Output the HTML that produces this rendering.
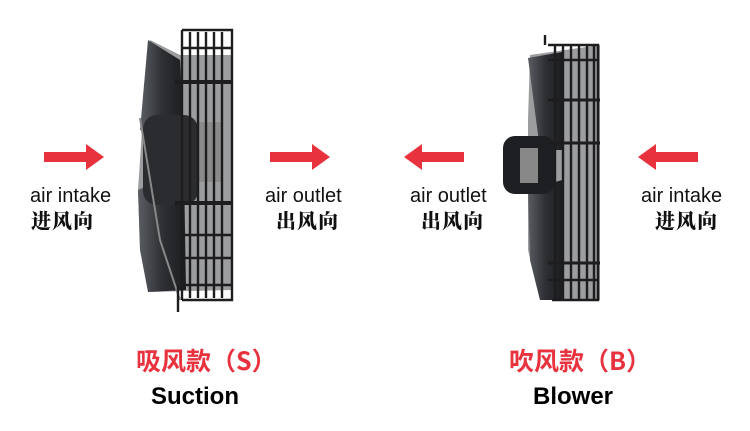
<!DOCTYPE html>
<html><head><meta charset="utf-8"><style>
body{margin:0;width:750px;height:431px;background:#fff;position:relative;overflow:hidden;font-family:"Liberation Sans","Noto Sans CJK SC",sans-serif}
.t{position:absolute;white-space:nowrap;color:#111}
.en{font-size:20px}
.cn{font-size:20px;font-weight:900;font-family:"Noto Serif CJK SC","Noto Sans CJK SC",serif;letter-spacing:1px}
.red{color:#e8333f;font-weight:bold;font-size:25px;font-family:"Noto Sans CJK SC",sans-serif}
.bk{font-weight:bold;font-size:24px;color:#000}
</style></head><body>
<svg width="750" height="431" style="position:absolute;left:0;top:0">
<defs>
<linearGradient id="bl" x1="0" x2="1"><stop offset="0" stop-color="#5a5d62"/><stop offset=".5" stop-color="#2e3034"/><stop offset="1" stop-color="#1c1d20"/></linearGradient>
</defs>
<g fill="#e8333f">
<path d="M44 152h42v-8l18 13-18 13v-8h-42z"/>
<path d="M270 152h42v-8l18 13-18 13v-8h-42z"/>
<path d="M464 152h-42v-8l-18 13 18 13v-8h42z"/>
<path d="M698 152h-42v-8l-18 13 18 13v-8h42z"/>
</g>
<path d="M150 40 L180 55 L232 55 L232 290 L150 292 L140 250 L138 190 L142 130 Z" fill="#4a4c51" opacity=".55"/>
<path d="M148 40 L180 60 L184 140 L140 130 Z" fill="url(#bl)"/>
<path d="M138 190 L184 170 L186 290 L148 292 L140 250 Z" fill="url(#bl)"/>
<rect x="143" y="115" width="55" height="90" rx="14" fill="#2b2c30"/>
<path d="M140 118 L160 240 L180 300" stroke="#888" stroke-width="2" fill="none"/>
<rect x="198" y="122" width="25" height="60" fill="#8a8a8a"/>
<g stroke="#1d1d1f" stroke-width="2.4" fill="none">
<path d="M182 30 H232 V300 H182"/>
<line x1="182" y1="30" x2="182" y2="300"/>
<line x1="190" y1="32" x2="190" y2="298"/><line x1="198" y1="32" x2="198" y2="298"/>
<line x1="206" y1="32" x2="206" y2="298"/><line x1="214" y1="32" x2="214" y2="298"/>
<line x1="222" y1="32" x2="222" y2="298"/>
<line x1="175" y1="82" x2="232" y2="82" stroke-width="4"/>
<line x1="175" y1="203" x2="232" y2="203" stroke-width="4"/>
<line x1="182" y1="48" x2="232" y2="48"/><line x1="182" y1="235" x2="232" y2="235"/>
<line x1="182" y1="258" x2="232" y2="258"/><line x1="182" y1="285" x2="232" y2="285"/>
<line x1="178" y1="285" x2="178" y2="312"/>
</g>
<path d="M530 55 L600 45 L600 300 L540 300 L528 250 L528 120 Z" fill="#4a4c51" opacity=".55"/>
<path d="M528 58 L562 52 L562 150 L540 150 Z" fill="url(#bl)"/>
<path d="M528 190 L562 180 L562 300 L540 300 L530 260 Z" fill="url(#bl)"/>
<rect x="503" y="136" width="52" height="58" rx="12" fill="#1e1f22"/>
<rect x="520" y="148" width="18" height="35" fill="#888"/>
<g stroke="#1d1d1f" stroke-width="2.4" fill="none">
<path d="M545 45 V35 M548 45 H598 V300 H552"/>
<line x1="555" y1="45" x2="555" y2="300"/><line x1="563" y1="45" x2="563" y2="300"/>
<line x1="571" y1="45" x2="571" y2="300"/><line x1="579" y1="45" x2="579" y2="300"/>
<line x1="587" y1="45" x2="587" y2="300"/><line x1="594" y1="45" x2="594" y2="300"/>
<line x1="548" y1="100" x2="600" y2="100" stroke-width="3"/>
<line x1="548" y1="143" x2="600" y2="143" stroke-width="3"/>
<line x1="548" y1="263" x2="600" y2="263" stroke-width="3"/>
<line x1="548" y1="60" x2="598" y2="60"/><line x1="548" y1="280" x2="598" y2="280"/>
</g>
</svg>
<div class="t en" style="left:30px;top:185px">air intake</div>
<div class="t cn" style="left:31px;top:205px">进风向</div>
<div class="t en" style="left:265px;top:185px">air outlet</div>
<div class="t cn" style="left:276px;top:205px">出风向</div>
<div class="t en" style="left:410px;top:185px">air outlet</div>
<div class="t cn" style="left:421px;top:205px">出风向</div>
<div class="t en" style="left:641px;top:185px">air intake</div>
<div class="t cn" style="left:655px;top:205px">进风向</div>
<div class="t red" style="left:136px;top:342px">吸风款（S）</div>
<div class="t bk" style="left:151px;top:383px">Suction</div>
<div class="t red" style="left:509px;top:342px">吹风款（B）</div>
<div class="t bk" style="left:533px;top:383px">Blower</div>
</body></html>
